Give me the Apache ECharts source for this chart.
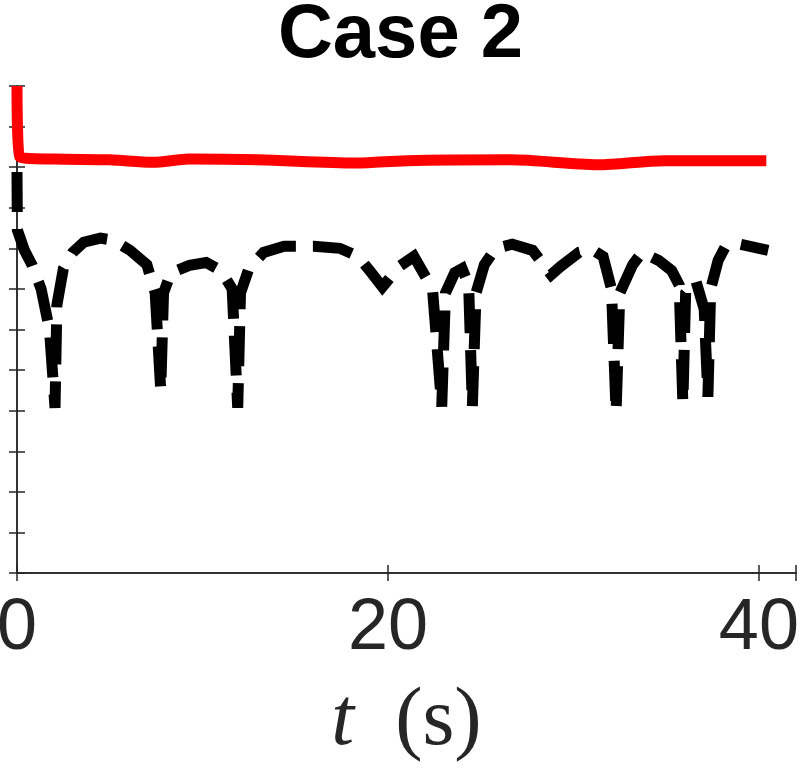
<!DOCTYPE html>
<html>
<head>
<meta charset="utf-8">
<script src="https://cdn.jsdelivr.net/npm/echarts@6/dist/echarts.min.js"></script>
<style>html,body{margin:0;padding:0;background:#fff;}#c{width:801px;height:776px;}</style>
</head>
<body>
<div id="c"></div>
<script>
var titleText = 'Case 2';
var xTicks = [0, 20, 40];

var tRed = [0, 0.15, 2, 5, 7.3, 9.3, 13, 18.3, 21, 26.6, 31.3, 34.9, 40.4];
var vRed = [12, 10.25, 10.2, 10.18, 10.12, 10.2, 10.18, 10.1, 10.16, 10.18, 10.06, 10.16, 10.16];

var tBlack = [0, 0.02, 0.4, 0.81, 1.3, 1.75, 2.05, 2.15, 2.5, 3.0, 3.6, 4.5, 5.2, 6.1, 7.0, 7.45, 7.75, 7.9, 8.3, 9.3, 10.2, 11.0, 11.6, 11.9, 12.05, 12.5, 13.3, 14.4, 16, 17.4, 18.4, 19.1, 19.7, 20.6, 21.4, 22.4, 22.9, 23.1, 23.6, 24.0, 24.35, 24.55, 24.75, 25.2, 25.8, 26.7, 27.8, 28.8, 29.3, 30.3, 31.0, 31.6, 32.05, 32.3, 32.5, 33.2, 33.7, 34.6, 35.3, 35.7, 35.9, 36.05, 36.6, 37.05, 37.25, 37.4, 37.8, 38.2, 39.0, 40.5];
var vBlack = [9.88, 8.45, 7.95, 7.59, 7.0, 6.0, 4.07, 6.6, 7.5, 7.9, 8.15, 8.25, 8.2, 7.95, 7.6, 6.9, 4.5, 6.9, 7.4, 7.58, 7.65, 7.45, 7.0, 4.07, 6.9, 7.5, 7.9, 8.05, 8.05, 8.0, 7.8, 7.4, 7.05, 7.55, 7.8, 7.0, 4.1, 6.9, 7.4, 7.5, 7.1, 4.1, 6.9, 7.6, 8.0, 8.1, 7.95, 7.35, 7.55, 7.9, 7.97, 7.8, 7.0, 3.97, 6.9, 7.6, 7.9, 7.7, 7.45, 7.1, 4.19, 6.9, 7.2, 6.5, 4.34, 7.0, 7.7, 8.05, 8.1, 7.95];

function zip(a, b) { return a.map(function (x, i) { return [x, b[i]]; }); }

var axisColor = '#262626';
var chart = echarts.init(document.getElementById('c'), null, {renderer: 'canvas'});
chart.setOption({
  animation: false,
  backgroundColor: '#ffffff',
  title: {
    text: titleText,
    left: 'center',
    top: -7,
    textStyle: {fontFamily: 'Liberation Sans', fontWeight: 'bold', fontSize: 76, color: '#000'}
  },
  grid: {left: 17, right: 5, top: 86, bottom: 203, containLabel: false, outerBoundsMode: 'none'},
  xAxis: [{
    type: 'value', min: 0, max: 42, interval: 20, position: 'bottom',
    axisLine: {show: true, lineStyle: {color: axisColor, width: 1.5}},
    axisTick: {show: true, inside: true, length: 8, lineStyle: {color: axisColor, width: 1.5}},
    splitLine: {show: false},
    axisLabel: {
      fontFamily: 'Liberation Sans', fontSize: 72, color: '#262626', margin: 20,
      showMaxLabel: true,
      formatter: function (v) { return xTicks.indexOf(v) >= 0 ? String(v) : ''; }
    },
    name: '{i|t}{n|  (s)}',
    nameLocation: 'middle',
    nameGap: 108,
    nameTextStyle: {
      rich: {
        i: {fontFamily: 'Liberation Serif', fontStyle: 'italic', fontSize: 82, color: '#262626'},
        n: {fontFamily: 'Liberation Serif', fontSize: 82, color: '#262626'}
      }
    }
  }, {
    type: 'value', min: 0, max: 42, interval: 20, position: 'top',
    axisLine: {show: true, lineStyle: {color: axisColor, width: 1.5}},
    axisTick: {show: true, inside: true, length: 8, lineStyle: {color: axisColor, width: 1.5}},
    axisLabel: {show: false}, splitLine: {show: false}
  }],
  yAxis: [{
    type: 'value', min: 0, max: 12, interval: 1, position: 'left',
    axisLine: {show: true, lineStyle: {color: axisColor, width: 1.5}},
    axisTick: {show: true, inside: true, length: 8, lineStyle: {color: axisColor, width: 1.5}},
    axisLabel: {show: false}, splitLine: {show: false}
  }, {
    type: 'value', min: 0, max: 12, interval: 1, position: 'right',
    axisLine: {show: true, lineStyle: {color: axisColor, width: 1.5}},
    axisTick: {show: true, inside: true, length: 8, lineStyle: {color: axisColor, width: 1.5}},
    axisLabel: {show: false}, splitLine: {show: false}
  }],
  series: [{
    type: 'line', data: zip(tRed, vRed), showSymbol: false, symbol: 'none', clip: false,
    smooth: 0.3,
    lineStyle: {color: '#ff0000', width: 11, cap: 'butt', join: 'round'},
    z: 3
  }, {
    type: 'line', data: zip(tBlack, vBlack), showSymbol: false, symbol: 'none', clip: false,
    lineStyle: {color: '#000000', width: 11, type: [40, 17], cap: 'butt', join: 'miter'},
    z: 2
  }]
});
</script>
</body>
</html>
